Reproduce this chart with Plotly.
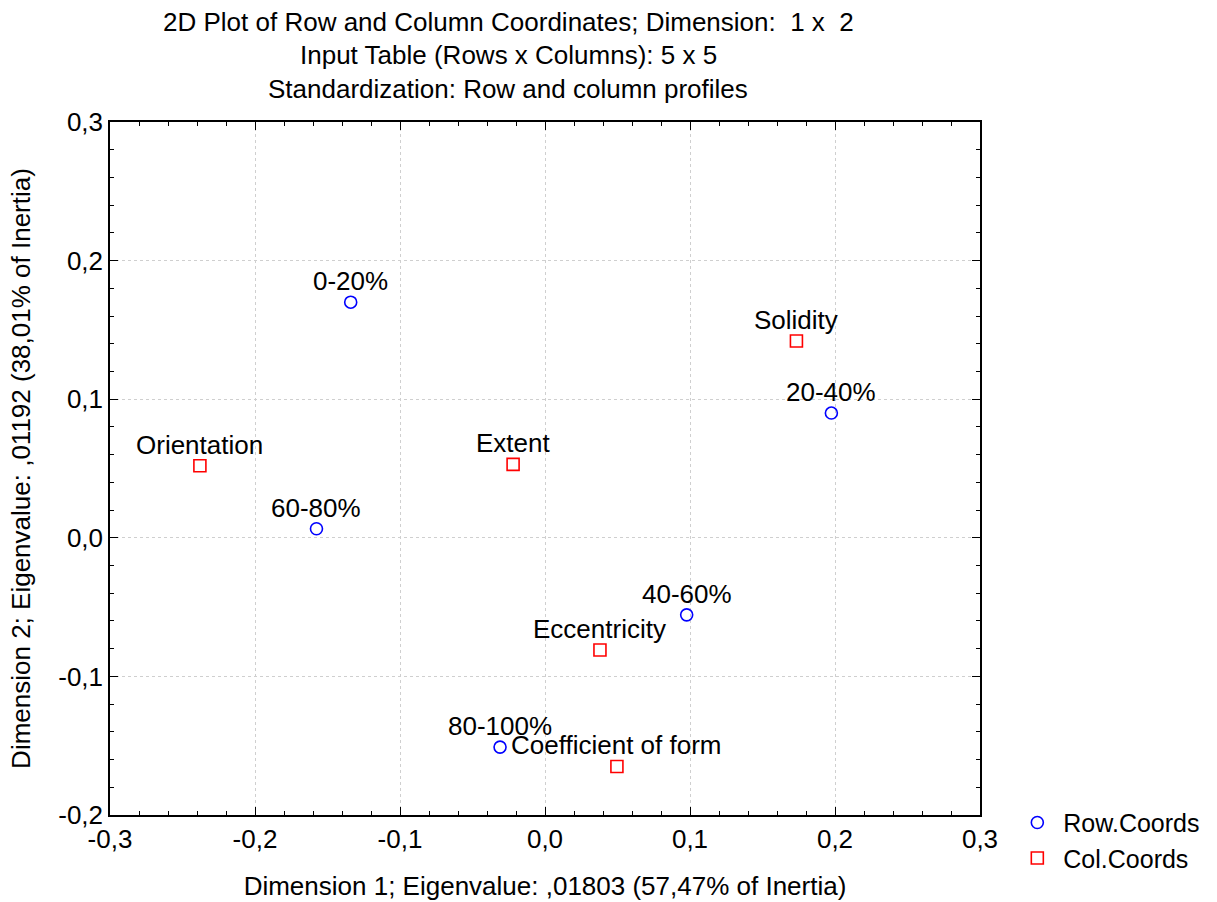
import plotly.graph_objects as go

# Row coordinates (response classes)
row_labels = ["0-20%", "20-40%", "40-60%", "60-80%", "80-100%"]
row_dim1 = [-0.134, 0.1975, 0.0977, -0.1576, -0.031]
row_dim2 = [0.170, 0.090, -0.0556, 0.0065, -0.151]

# Column coordinates (shape descriptors)
col_labels = ["Solidity", "Orientation", "Extent", "Eccentricity", "Coefficient of form"]
col_dim1 = [0.1734, -0.238, -0.022, 0.0379, 0.0496]
col_dim2 = [0.142, 0.052, 0.053, -0.081, -0.165]

x_ticks = [-0.3, -0.2, -0.1, 0.0, 0.1, 0.2, 0.3]
x_tick_text = ["-0,3", "-0,2", "-0,1", "0,0", "0,1", "0,2", "0,3"]
y_ticks = [-0.2, -0.1, 0.0, 0.1, 0.2, 0.3]
y_tick_text = ["-0,2", "-0,1", "0,0", "0,1", "0,2", "0,3"]

title_lines = [
    "2D Plot of Row and Column Coordinates; Dimension:  1 x  2",
    "Input Table (Rows x Columns): 5 x 5",
    "Standardization: Row and column profiles",
]

FONT = "Liberation Sans, Arial, sans-serif"
FS = 26

fig = go.Figure()
fig.add_trace(go.Scatter(
    x=row_dim1, y=row_dim2, mode="markers", name="Row.Coords",
    marker=dict(symbol="circle-open", size=12, color="#0000ff", line=dict(width=1.6, color="#0000ff")),
))
fig.add_trace(go.Scatter(
    x=col_dim1, y=col_dim2, mode="markers", name="Col.Coords",
    marker=dict(symbol="square-open", size=12, color="#ff0000", line=dict(width=1.6, color="#ff0000")),
))

# point labels, centred above each marker
for lab, xv, yv in list(zip(row_labels, row_dim1, row_dim2)) + list(zip(col_labels, col_dim1, col_dim2)):
    fig.add_annotation(x=xv, y=yv, text=lab, showarrow=False, xanchor="center", yanchor="middle",
                       yshift=21, font=dict(family=FONT, size=FS, color="black"))

# three-line heading
for line, ypos in zip(title_lines, [1.1443, 1.0967, 1.0476]):
    fig.add_annotation(text=line, xref="paper", yref="paper", x=0.4576, y=ypos,
                       xanchor="center", yanchor="middle", showarrow=False,
                       font=dict(family=FONT, size=FS, color="black"))

axis_common = dict(
    showline=True, linecolor="black", linewidth=1.5, mirror="ticks",
    ticks="inside", ticklen=8, tickwidth=1.2, tickcolor="black",
    showgrid=True, gridcolor="#cfcfcf", griddash="dot", gridwidth=1,
    zeroline=False, automargin=False, tickfont=dict(family=FONT, size=FS, color="black"),
)

fig.update_xaxes(
    range=[-0.3, 0.3], tickvals=x_ticks, ticktext=x_tick_text,
    minor=dict(dtick=0.02, tick0=0, ticks="inside", ticklen=4, tickcolor="black", showgrid=False),
    title=dict(text="Dimension 1; Eigenvalue: ,01803 (57,47% of Inertia)",
               font=dict(family=FONT, size=FS, color="black"), standoff=24),
    **axis_common,
)
fig.update_yaxes(
    range=[-0.2, 0.3], tickvals=y_ticks, ticktext=y_tick_text,
    minor=dict(dtick=0.02, tick0=0, ticks="inside", ticklen=4, tickcolor="black", showgrid=False),
    title=dict(text="Dimension 2; Eigenvalue: ,01192 (38,01% of Inertia)",
               font=dict(family=FONT, size=FS, color="black"), standoff=20),
    **axis_common,
)

fig.update_layout(
    width=1217, height=902,
    margin=dict(l=110, r=235, t=122, b=87),
    paper_bgcolor="white", plot_bgcolor="white",
    font=dict(family=FONT, size=FS, color="black"),
    legend=dict(
        x=1.036, y=0.022, xanchor="left", yanchor="top", xref="paper", yref="paper",
        font=dict(family=FONT, size=25, color="black"),
        bgcolor="rgba(0,0,0,0)", tracegroupgap=0, itemwidth=42,
    ),
    showlegend=True,
)

fig.write_html("out.html")
